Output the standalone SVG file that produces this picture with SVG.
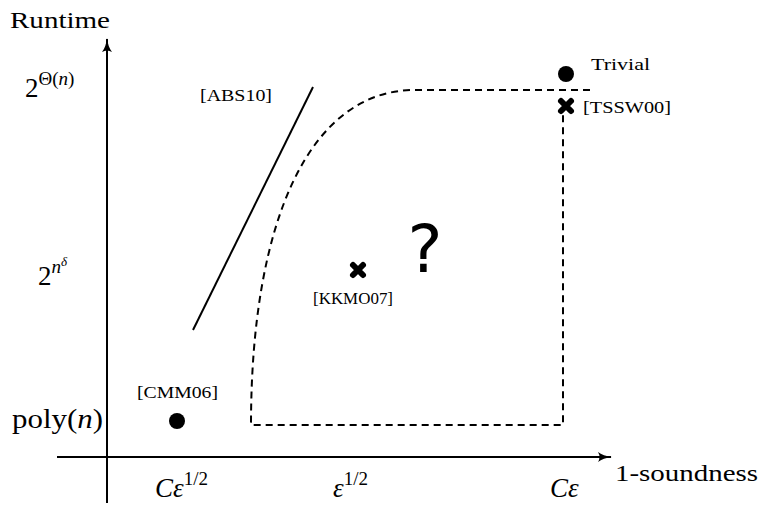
<svg xmlns="http://www.w3.org/2000/svg" width="761" height="505" viewBox="0 0 761 505">
<style>
.ax{stroke:#000;stroke-width:2;fill:none}
.dash{stroke:#000;stroke-width:2;fill:none;stroke-dasharray:7 5}
.t{font-family:"Liberation Serif","Times New Roman",serif;fill:#000}
.big{font-size:24px}
.m{font-size:27px}
.sup{font-size:19px}
.sm{font-size:17px}
.it{font-style:italic}
.dot{fill:#000}
.x{stroke:#000;stroke-width:6;stroke-linecap:round}
</style>
<defs>
<marker id="ah" viewBox="0 0 14 10" refX="13" refY="5" markerWidth="14" markerHeight="10" markerUnits="userSpaceOnUse" orient="auto">
<path d="M0,0 Q5,4 14,5 Q5,6 0,10 Q3,5 0,0Z" fill="#000"/>
</marker>
</defs>
<rect width="761" height="505" fill="#fff"/>
<g id="axes">
<line class="ax" x1="107" y1="503" x2="107" y2="39" marker-end="url(#ah)"/>
<line class="ax" x1="57" y1="457" x2="611" y2="457" marker-end="url(#ah)"/>
</g>
<g id="axis-labels">
<text class="t big" x="10" y="28" textLength="100" lengthAdjust="spacingAndGlyphs">Runtime</text>
<text class="t big" x="615" y="481" textLength="143" lengthAdjust="spacingAndGlyphs">1-soundness</text>
<text class="t m" x="25" y="97">2<tspan class="sup" dy="-12">Θ(<tspan class="it">n</tspan>)</tspan></text>
<text class="t m" x="38" y="285">2<tspan class="sup it" dy="-12">n</tspan><tspan class="it" font-size="13" dy="-7">δ</tspan></text>
<text class="t m" x="12" y="428" textLength="91" lengthAdjust="spacingAndGlyphs">poly(<tspan class="it">n</tspan>)</text>
<text class="t m" x="155" y="497"><tspan class="it">Cε</tspan><tspan class="sup" dy="-12">1/2</tspan></text>
<text class="t m" x="333" y="497"><tspan class="it">ε</tspan><tspan class="sup" dy="-12">1/2</tspan></text>
<text class="t m it" x="550" y="497">Cε</text>
</g>
<g id="connectors">
<path class="dash" d="M590,90 L415,90 C310,90 251,220 251,425 L563,425 L563,112"/>
<line class="ax" x1="193" y1="330" x2="313" y2="87"/>
</g>
<g id="abs10">
<text class="t sm" x="200" y="101" textLength="72" lengthAdjust="spacingAndGlyphs">[ABS10]</text>
</g>
<g id="trivial">
<circle class="dot" cx="566" cy="74" r="8"/>
<text class="t sm" x="591" y="70" textLength="59" lengthAdjust="spacingAndGlyphs">Trivial</text>
</g>
<g id="tssw00">
<path class="x" d="M561,101 L571,111 M571,101 L561,111"/>
<text class="t sm" x="583" y="113" textLength="88" lengthAdjust="spacingAndGlyphs">[TSSW00]</text>
</g>
<g id="kkmo07">
<path class="x" d="M353,265 L363,275 M363,265 L353,275"/>
<text class="t sm" x="313" y="304" textLength="80" lengthAdjust="spacingAndGlyphs">[KKMO07]</text>
</g>
<g id="question">
<text x="425" y="272" text-anchor="middle" font-family="DejaVu Sans,sans-serif" font-size="66">?</text>
</g>
<g id="cmm06">
<circle class="dot" cx="177" cy="421" r="8"/>
<text class="t sm" x="137" y="398" textLength="81" lengthAdjust="spacingAndGlyphs">[CMM06]</text>
</g>
</svg>
